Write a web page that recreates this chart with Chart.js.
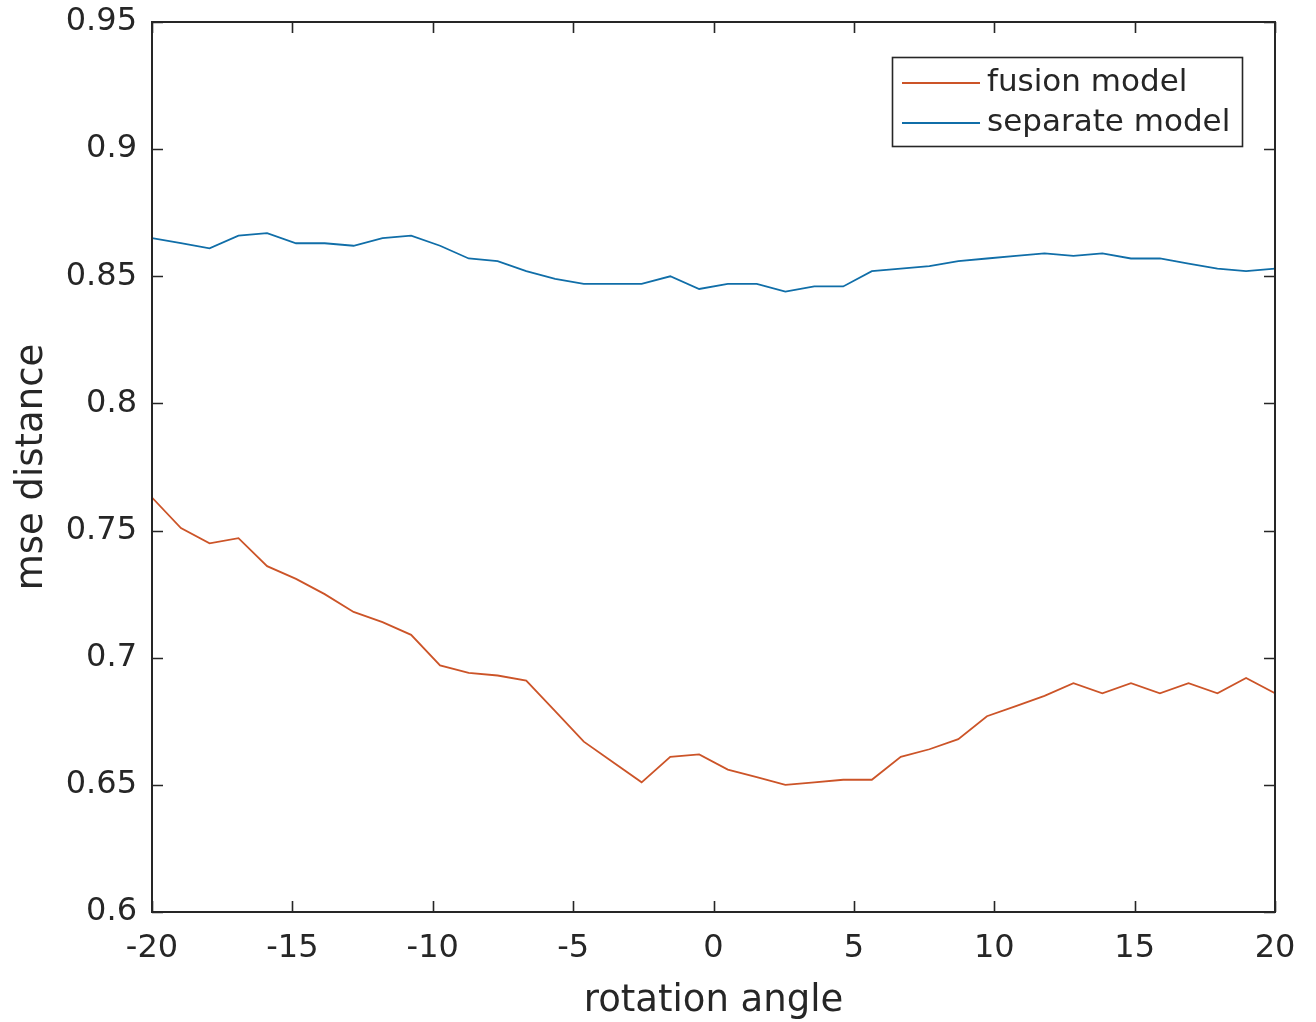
<!DOCTYPE html>
<html>
<head>
<meta charset="utf-8">
<script src="https://cdn.jsdelivr.net/npm/chart.js@4.4.1/dist/chart.umd.min.js"></script>
<style>
  html, body { margin: 0; padding: 0; background: #ffffff; }
  #wrap { width: 1316px; height: 1022px; }
</style>
</head>
<body>
<div id="wrap"><canvas id="c" width="1316" height="1022"></canvas></div>
<script>
// ---- data ----
const angles = [-20, -18.97, -17.95, -16.92, -15.90, -14.87, -13.85, -12.82, -11.79, -10.77,
  -9.74, -8.72, -7.69, -6.67, -5.64, -4.62, -3.59, -2.56, -1.54, -0.51,
  0.51, 1.54, 2.56, 3.59, 4.62, 5.64, 6.67, 7.69, 8.72, 9.74,
  10.77, 11.79, 12.82, 13.85, 14.87, 15.90, 16.92, 17.95, 18.97, 20];
const fusionModel = [0.763, 0.751, 0.745, 0.747, 0.736, 0.731, 0.725, 0.718, 0.714, 0.709,
  0.697, 0.694, 0.693, 0.691, 0.679, 0.667, 0.659, 0.651, 0.661, 0.662,
  0.656, 0.653, 0.650, 0.651, 0.652, 0.652, 0.661, 0.664, 0.668, 0.677,
  0.681, 0.685, 0.690, 0.686, 0.690, 0.686, 0.690, 0.686, 0.692, 0.686];
const separateModel = [0.865, 0.863, 0.861, 0.866, 0.867, 0.863, 0.863, 0.862, 0.865, 0.866,
  0.862, 0.857, 0.856, 0.852, 0.849, 0.847, 0.847, 0.847, 0.850, 0.845,
  0.847, 0.847, 0.844, 0.846, 0.846, 0.852, 0.853, 0.854, 0.856, 0.857,
  0.858, 0.859, 0.858, 0.859, 0.857, 0.857, 0.855, 0.853, 0.852, 0.853];
const seriesNames = ['fusion model', 'separate model'];
const xTicks = [-20, -15, -10, -5, 0, 5, 10, 15, 20];
const yTicks = [0.6, 0.65, 0.7, 0.75, 0.8, 0.85, 0.9, 0.95];
const xTitle = 'rotation angle';
const yTitle = 'mse distance';

const INK = '#262626';
const FONT = 'DejaVu Sans';
const colors = ['#CC5428', '#106EA8'];

function toPoints(ys) { return ys.map((y, i) => ({ x: angles[i], y: y })); }

const axisPlugin = {
  id: 'matlabAxes',
  afterDraw(chart) {
    const ctx = chart.ctx;
    const a = chart.chartArea;
    const xs = chart.scales.x, ys = chart.scales.y;
    const tl = 11;
    ctx.save();
    ctx.strokeStyle = INK;
    ctx.lineWidth = 1.6;
    ctx.beginPath();
    xTicks.forEach(v => {
      const px = Math.round(xs.getPixelForValue(v)) + 0.5;
      ctx.moveTo(px, a.bottom); ctx.lineTo(px, a.bottom - tl);
      ctx.moveTo(px, a.top); ctx.lineTo(px, a.top + tl);
    });
    yTicks.forEach(v => {
      const py = Math.round(ys.getPixelForValue(v)) + 0.5;
      ctx.moveTo(a.left, py); ctx.lineTo(a.left + tl, py);
      ctx.moveTo(a.right, py); ctx.lineTo(a.right - tl, py);
    });
    ctx.stroke();
    ctx.lineWidth = 2;
    ctx.strokeRect(a.left, a.top, a.right - a.left, a.bottom - a.top);

    // legend box
    const lx = 892, ly = 57, lw = 350, lh = 89;
    ctx.fillStyle = '#ffffff';
    ctx.fillRect(lx, ly, lw, lh);
    ctx.lineWidth = 1.6;
    ctx.strokeStyle = INK;
    ctx.strokeRect(lx + 0.5, ly + 0.5, lw, lh);
    ctx.font = '31px "' + FONT + '"';
    ctx.textBaseline = 'middle';
    ctx.textAlign = 'left';
    chart.data.datasets.forEach((ds, i) => {
      const yy = 83 + i * 40;
      ctx.strokeStyle = ds.borderColor;
      ctx.lineWidth = 1.8;
      ctx.beginPath();
      ctx.moveTo(902, yy); ctx.lineTo(980, yy);
      ctx.stroke();
      ctx.fillStyle = INK;
      ctx.fillText(ds.label, 987, yy);
    });
    ctx.restore();
  }
};

new Chart(document.getElementById('c'), {
  type: 'line',
  data: {
    datasets: [
      { label: seriesNames[0], data: toPoints(fusionModel), borderColor: colors[0], borderWidth: 1.8, pointRadius: 0, tension: 0, fill: false },
      { label: seriesNames[1], data: toPoints(separateModel), borderColor: colors[1], borderWidth: 1.8, pointRadius: 0, tension: 0, fill: false }
    ]
  },
  options: {
    responsive: false,
    animation: false,
    layout: { padding: { left: 0, top: 22, right: 41, bottom: 0 } },
    plugins: { legend: { display: false }, tooltip: { enabled: false } },
    scales: {
      x: {
        type: 'linear', min: -20, max: 20,
        afterFit(s) { s.height = 110; },
        afterBuildTicks(s) { s.ticks = xTicks.map(v => ({ value: v })); },
        grid: { display: false, drawTicks: false },
        border: { display: false },
        ticks: { color: INK, font: { family: FONT, size: 32 }, padding: 17, maxRotation: 0, autoSkip: false,
          callback: v => String(v) },
        title: { display: true, text: xTitle, color: INK, font: { family: FONT, size: 37, lineHeight: 1.1 }, padding: { top: 0, bottom: 0 } }
      },
      y: {
        type: 'linear', min: 0.6, max: 0.95,
        afterFit(s) { s.width = 152; s.paddingTop = 0; s.paddingBottom = 0; },
        afterBuildTicks(s) { s.ticks = yTicks.map(v => ({ value: v })); },
        grid: { display: false, drawTicks: false },
        border: { display: false },
        ticks: { color: INK, font: { family: FONT, size: 32, lineHeight: 0.6 }, padding: 15, autoSkip: false,
          callback: v => String(Math.round(v * 100) / 100) },
        title: { display: true, text: yTitle, color: INK, font: { family: FONT, size: 37 }, padding: { top: 10, bottom: 0 } }
      }
    }
  },
  plugins: [axisPlugin]
});
</script>
</body>
</html>
